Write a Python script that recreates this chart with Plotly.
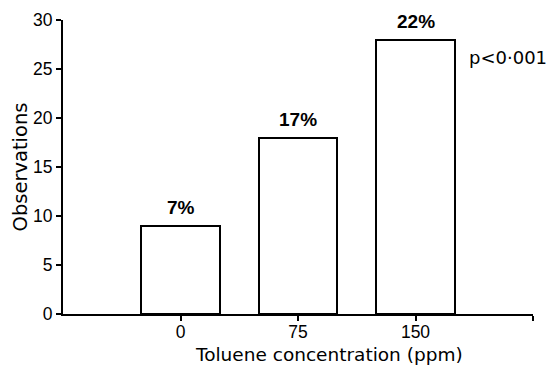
import plotly.graph_objects as go

# Toluene exposure groups and the observation counts per group
concentrations = ["0", "75", "150"]
observations = [9, 18, 28]
percent_labels = ["7%", "17%", "22%"]
p_value_text = "p<0·001"

positions = list(range(len(concentrations)))

fig = go.Figure()
fig.add_trace(go.Bar(
    x=positions,
    y=observations,
    width=0.667,
    marker=dict(color="white", line=dict(color="black", width=2)),
    showlegend=False,
))

title_font = dict(family="DejaVu Sans", size=19.5, color="black")
xtitle_font = dict(family="DejaVu Sans", size=18.5, color="black")
pct_font = dict(family="Liberation Sans", size=19, color="black", weight="bold")
note_font = dict(family="DejaVu Sans", size=18, color="black")
tick_font = dict(family="Liberation Sans", size=17.5, color="black")

# Percentage labels above each bar
for xpos, val, txt in zip(positions, observations, percent_labels):
    fig.add_annotation(x=xpos, y=val, text=txt, showarrow=False,
                       yanchor="bottom", yshift=6, font=pct_font)

# Significance note to the right of the highest bar
fig.add_annotation(x=2.44, y=26.2, text=p_value_text, showarrow=False,
                   xanchor="left", yanchor="middle", font=note_font)

# X-axis title, set slightly right of the axis centre
fig.add_annotation(x=0.565, y=0, xref="paper", yref="paper",
                   text="Toluene concentration (ppm)", showarrow=False,
                   xanchor="center", yanchor="bottom", yshift=-53,
                   font=xtitle_font)

fig.update_layout(
    width=547, height=367,
    margin=dict(l=63, r=14, t=20, b=53),
    plot_bgcolor="white", paper_bgcolor="white",
    bargap=0,
)
fig.update_xaxes(
    range=[-1, 3],
    tickvals=positions + [3],
    ticktext=concentrations + [""],
    ticks="outside", ticklen=5, tickwidth=2, tickcolor="black",
    showline=True, linecolor="black", linewidth=2,
    showgrid=False, zeroline=False,
    tickfont=tick_font, automargin=False, ticklabelstandoff=-4,
)
fig.update_yaxes(
    range=[0, 30],
    tickvals=[0, 5, 10, 15, 20, 25, 30],
    ticks="outside", ticklen=5, tickwidth=2, tickcolor="black",
    showline=True, linecolor="black", linewidth=2,
    showgrid=False, zeroline=False,
    tickfont=tick_font, automargin=False,
    title=dict(text="Observations", font=title_font, standoff=0),
)

fig.write_html("out.html")
